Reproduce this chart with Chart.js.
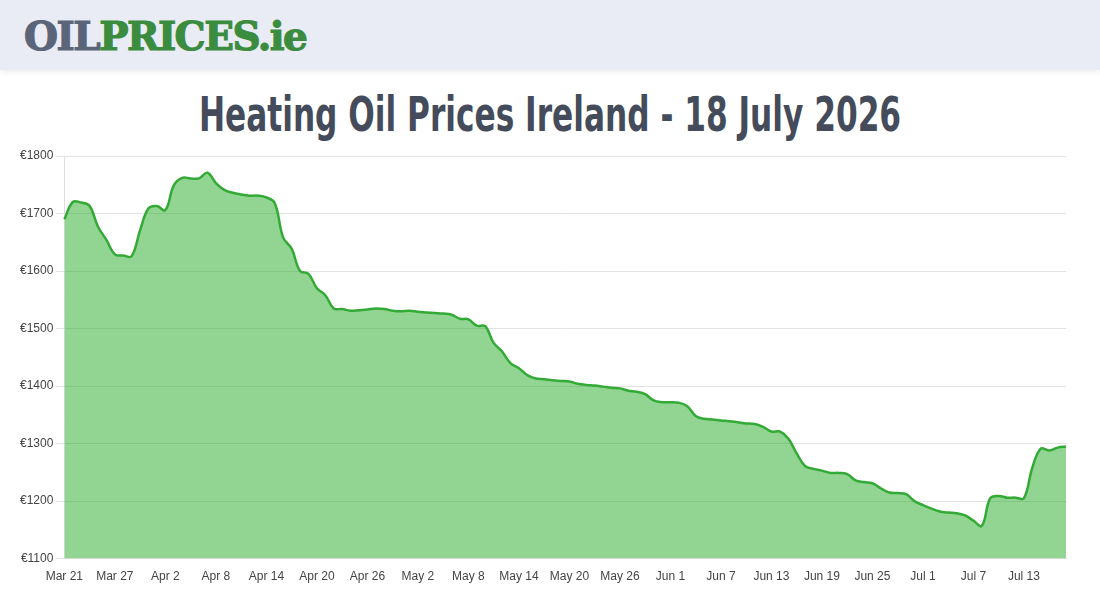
<!DOCTYPE html>
<html>
<head>
<meta charset="utf-8">
<script src="https://cdn.jsdelivr.net/npm/chart.js@4"></script>
<style>
  html, body { margin: 0; padding: 0; background: #fff; width: 1100px; height: 600px; overflow: hidden; }
  #header {
    position: absolute; left: 0; top: 0; width: 1100px; height: 70px;
    background: #e9ecf4; box-shadow: 0 2px 6px rgba(0,0,0,0.08);
  }
  #logo {
    position: absolute; left: 24px; top: 14px;
    font-family: "DejaVu Serif", serif; font-weight: bold; font-size: 39px;
    letter-spacing: -1.5px; line-height: 44px; white-space: nowrap;
  }
  #logo .oil { color: #5b6579; -webkit-text-stroke: 1.2px #5b6579; }
  #logo .prices { color: #3b8c3e; -webkit-text-stroke: 1.2px #3b8c3e; }
  #title {
    position: absolute; left: 550px; top: 86px; margin: 0;
    font-family: "DejaVu Sans", sans-serif; font-weight: bold; font-size: 48px;
    line-height: 56px; color: #444b5b; white-space: nowrap;
    transform: translateX(-50%) scaleX(0.65); transform-origin: center top;
  }
  #chartBox { position: absolute; left: 0; top: 142px; width: 1100px; height: 450px; }
</style>
</head>
<body>
<div id="header"><div id="logo"><span class="oil">OIL</span><span class="prices">PRICES.ie</span></div></div>
<h1 id="title">Heating Oil Prices Ireland - 18 July 2026</h1>
<div id="chartBox"><canvas id="priceChart"></canvas></div>

<script>
// daily dates, Mar 21 - Jul 18
const dates = [
  'Mar 21','Mar 22','Mar 23','Mar 24','Mar 25','Mar 26','Mar 27','Mar 28','Mar 29','Mar 30','Mar 31',
  'Apr 1','Apr 2','Apr 3','Apr 4','Apr 5','Apr 6','Apr 7','Apr 8','Apr 9','Apr 10',
  'Apr 11','Apr 12','Apr 13','Apr 14','Apr 15','Apr 16','Apr 17','Apr 18','Apr 19','Apr 20',
  'Apr 21','Apr 22','Apr 23','Apr 24','Apr 25','Apr 26','Apr 27','Apr 28','Apr 29','Apr 30',
  'May 1','May 2','May 3','May 4','May 5','May 6','May 7','May 8','May 9','May 10',
  'May 11','May 12','May 13','May 14','May 15','May 16','May 17','May 18','May 19','May 20',
  'May 21','May 22','May 23','May 24','May 25','May 26','May 27','May 28','May 29','May 30','May 31',
  'Jun 1','Jun 2','Jun 3','Jun 4','Jun 5','Jun 6','Jun 7','Jun 8','Jun 9','Jun 10',
  'Jun 11','Jun 12','Jun 13','Jun 14','Jun 15','Jun 16','Jun 17','Jun 18','Jun 19','Jun 20',
  'Jun 21','Jun 22','Jun 23','Jun 24','Jun 25','Jun 26','Jun 27','Jun 28','Jun 29','Jun 30',
  'Jul 1','Jul 2','Jul 3','Jul 4','Jul 5','Jul 6','Jul 7','Jul 8','Jul 9','Jul 10',
  'Jul 11','Jul 12','Jul 13','Jul 14','Jul 15','Jul 16','Jul 17','Jul 18'
];

// price in euro per day
const prices = [
  1690, 1720, 1719, 1713, 1677, 1654, 1629, 1627, 1626, 1671,
  1709, 1713, 1706, 1749, 1762, 1761, 1761, 1771, 1753, 1741,
  1736, 1733, 1731, 1731, 1728, 1718, 1658, 1639, 1600, 1595,
  1570, 1558, 1535, 1534, 1531, 1532, 1533, 1535, 1534, 1531,
  1530, 1531, 1529, 1528, 1527, 1526, 1524, 1517, 1516, 1505,
  1504, 1475, 1460, 1440, 1431, 1419, 1413, 1412, 1410, 1409,
  1408, 1404, 1402, 1401, 1399, 1397, 1396, 1392, 1390, 1386,
  1375, 1372, 1372, 1371, 1365, 1348, 1343, 1342, 1340, 1339,
  1337, 1335, 1334, 1329, 1321, 1321, 1309, 1283, 1261, 1256,
  1253, 1249, 1249, 1247, 1236, 1233, 1231, 1222, 1215, 1214,
  1212, 1200, 1193, 1187, 1182, 1180, 1179, 1175, 1166, 1157,
  1205, 1209, 1206, 1206, 1205, 1258, 1291, 1288, 1293, 1295
];

const yMin = 1100;
const yMax = 1800;
const labelEvery = 6;

const ctx = document.getElementById('priceChart');

new Chart(ctx, {
  type: 'line',
  data: {
    labels: dates,
    datasets: [{
      label: 'Price',
      data: prices,
      borderColor: '#33aa36',
      backgroundColor: 'rgba(46,175,46,0.52)',
      borderWidth: 2.5,
      fill: true,
      tension: 0.4,
      pointRadius: 0
    }]
  },
  options: {
    responsive: true,
    maintainAspectRatio: false,
    animation: false,
    layout: { padding: { left: 17, right: 34, top: 14, bottom: 5 } },
    plugins: {
      legend: { display: false },
      tooltip: { enabled: false }
    },
    scales: {
      x: {
        grid: { display: false },
        border: { color: '#ddd' },
        ticks: {
          autoSkip: false,
          maxRotation: 0,
          color: '#444',
          font: { size: 12 },
          callback: function(value, index) {
            return index % labelEvery === 0 ? this.getLabelForValue(value) : null;
          }
        }
      },
      y: {
        min: yMin,
        max: yMax,
        border: { color: '#ddd' },
        grid: { color: '#e2e2e2' },
        ticks: {
          stepSize: 100,
          color: '#444',
          font: { size: 12 },
          callback: v => '€' + v
        }
      }
    }
  }
});
</script>
</body>
</html>
